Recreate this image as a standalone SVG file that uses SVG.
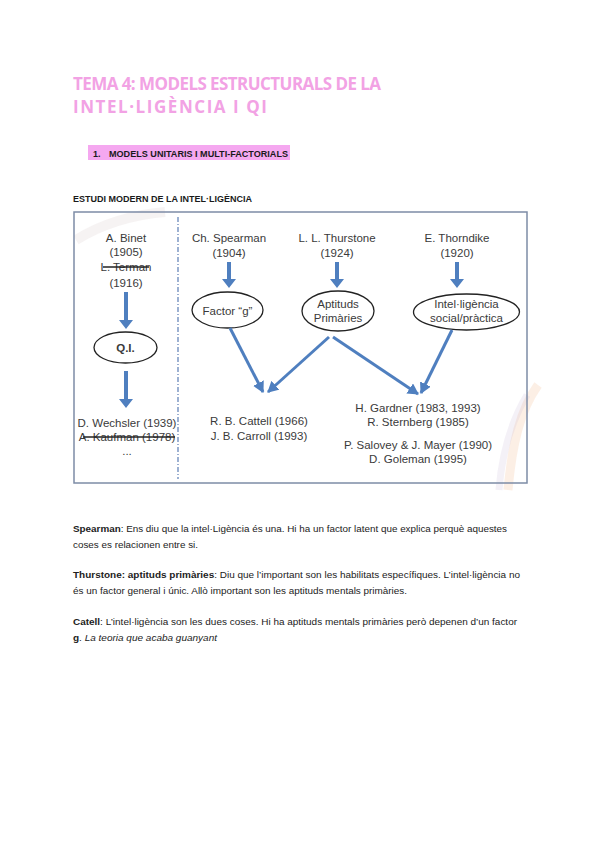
<svg xmlns="http://www.w3.org/2000/svg" width="600" height="848" viewBox="0 0 600 848">
<defs>
<style>
.title{font-family:"Open Sans","Liberation Sans",sans-serif;font-weight:bold;font-size:17px;fill:#f2a2e4;}
.hd{font-family:"Liberation Sans",sans-serif;font-weight:bold;font-size:9px;fill:#1a1a1a;}
.d{font-family:"Liberation Sans",sans-serif;font-size:11.5px;fill:#3a3a3a;text-anchor:middle;}
.b{font-family:"Liberation Sans",sans-serif;font-size:9px;fill:#222;}
.bb{font-weight:bold;}
.ell{fill:#fff;stroke:#222;stroke-width:1.3;}
.blk{fill:#4f7fbf;}
.con{stroke:#4f7fbf;stroke-width:3;fill:none;marker-end:url(#ah);}
.strike{stroke:#222;stroke-width:1.4;}
</style>
<marker id="ah" markerWidth="12" markerHeight="12" refX="10" refY="6" orient="auto" markerUnits="userSpaceOnUse">
<path d="M0,0 L11,6 L0,12 Z" fill="#4f7fbf"/>
</marker>
</defs>
<rect width="600" height="848" fill="#fff"/>

<!-- decorative swooshes -->
<path d="M538,385 C520,410 512,445 508,490" stroke="#f0b48a" stroke-width="9" fill="none" opacity="0.22"/>
<path d="M527,395 C512,420 502,452 499,490" stroke="#c8b8d8" stroke-width="7" fill="none" opacity="0.2"/>
<path d="M76,240 C100,225 130,215 165,212" stroke="#d8c8c8" stroke-width="10" fill="none" opacity="0.22"/>

<!-- headings -->
<text class="title" x="73" y="90" textLength="308" lengthAdjust="spacing">TEMA 4: MODELS ESTRUCTURALS DE LA</text>
<text class="title" x="73" y="113" textLength="194" lengthAdjust="spacing">INTEL·LIGÈNCIA I QI</text>
<rect x="88" y="145" width="202" height="15" fill="#f5a8f0"/>
<text class="hd" x="93" y="157">1.</text>
<text class="hd" x="109" y="157" textLength="179" lengthAdjust="spacingAndGlyphs">MODELS UNITARIS I MULTI-FACTORIALS</text>
<text class="hd" x="73" y="202" textLength="179" lengthAdjust="spacingAndGlyphs">ESTUDI MODERN DE LA INTEL·LIGÈNCIA</text>

<!-- frame -->
<rect x="74" y="212" width="453" height="271" fill="none" stroke="#7d8ca6" stroke-width="1.5"/>
<line x1="178" y1="217" x2="178" y2="479" stroke="#5b7db5" stroke-width="1.2" stroke-dasharray="5,2,1,2"/>

<g id="binet">
<text class="d" x="126" y="242">A.   Binet</text>
<text class="d" x="126" y="256">(1905)</text>
<text class="d" x="126" y="271">L. Terman</text>
<line class="strike" x1="103" y1="267" x2="149" y2="267"/>
<text class="d" x="126" y="287">(1916)</text>
</g>
<g id="qi">
<ellipse class="ell" cx="125.5" cy="347.5" rx="31.5" ry="15.5"/>
<text class="d" x="125.5" y="352" font-weight="bold">Q.I.</text>
</g>
<g id="wechsler">
<text class="d" x="127" y="427">D. Wechsler (1939)</text>
<text class="d" x="127" y="441">A. Kaufman (1978)</text>
<line class="strike" x1="83" y1="437" x2="175" y2="437"/>
<text class="d" x="127" y="455">...</text>
</g>

<g id="spearman">
<text class="d" x="229" y="242">Ch. Spearman</text>
<text class="d" x="229" y="257">(1904)</text>
</g>
<g id="factorg">
<ellipse class="ell" cx="227.5" cy="310" rx="35.5" ry="18"/>
<text class="d" x="227.5" y="315">Factor “g”</text>
</g>

<g id="thurstone">
<text class="d" x="337" y="242">L. L. Thurstone</text>
<text class="d" x="337" y="257">(1924)</text>
</g>
<g id="aptituds">
<ellipse class="ell" cx="338" cy="311" rx="36" ry="20"/>
<text class="d" x="338" y="308">Aptituds</text>
<text class="d" x="338" y="322">Primàries</text>
</g>

<g id="thorndike">
<text class="d" x="457" y="242">E. Thorndike</text>
<text class="d" x="457" y="257">(1920)</text>
</g>
<g id="social">
<ellipse class="ell" cx="466.5" cy="312" rx="53" ry="18"/>
<text class="d" x="466.5" y="308">Intel·ligència</text>
<text class="d" x="466.5" y="322">social/pràctica</text>
</g>

<g id="cattell">
<text class="d" x="259" y="425">R. B. Cattell (1966)</text>
<text class="d" x="259" y="440">J. B. Carroll (1993)</text>
</g>
<g id="gardner">
<text class="d" x="418" y="412">H. Gardner (1983, 1993)</text>
<text class="d" x="418" y="426">R. Sternberg (1985)</text>
<text class="d" x="418" y="449">P. Salovey &amp; J. Mayer (1990)</text>
<text class="d" x="418" y="463">D. Goleman (1995)</text>
</g>

<g id="connectors">
<path class="blk" d="M124,292 h4 v28 h5 l-7,9 l-7,-9 h5 z"/>
<path class="blk" d="M124,371 h4 v28 h5 l-7,9 l-7,-9 h5 z"/>
<path class="blk" d="M227,262 h4 v17 h5 l-7,9 l-7,-9 h5 z"/>
<path class="blk" d="M335,262 h4 v17 h5 l-7,9 l-7,-9 h5 z"/>
<path class="blk" d="M455,262 h4 v17 h5 l-7,9 l-7,-9 h5 z"/>
<line class="con" x1="230" y1="328" x2="263" y2="392"/>
<line class="con" x1="329" y1="337" x2="268" y2="392"/>
<line class="con" x1="333" y1="337" x2="418" y2="394"/>
<line class="con" x1="452" y1="330" x2="421" y2="393"/>
</g>

<!-- body text -->
<text class="b" x="73" y="532" textLength="434" lengthAdjust="spacingAndGlyphs"><tspan class="bb">Spearman</tspan>: Ens diu que la intel·Ligència és una. Hi ha un factor latent que explica perquè aquestes</text>
<text class="b" x="73" y="548" textLength="125" lengthAdjust="spacingAndGlyphs">coses es relacionen entre si.</text>
<text class="b" x="73" y="578" textLength="447" lengthAdjust="spacingAndGlyphs"><tspan class="bb">Thurstone: aptituds primàries</tspan>: Diu que l’important son les habilitats específiques. L’intel·ligència no</text>
<text class="b" x="73" y="594" textLength="334" lengthAdjust="spacingAndGlyphs">és un factor general i únic. Allò important son les aptituds mentals primàries.</text>
<text class="b" x="73" y="625" textLength="444" lengthAdjust="spacingAndGlyphs"><tspan class="bb">Catell</tspan>: L’intel·ligència son les dues coses. Hi ha aptituds mentals primàries però depenen d’un factor</text>
<text class="b" x="73" y="641" textLength="144" lengthAdjust="spacingAndGlyphs"><tspan class="bb">g</tspan>. <tspan font-style="italic">La teoria que acaba guanyant</tspan></text>
</svg>
